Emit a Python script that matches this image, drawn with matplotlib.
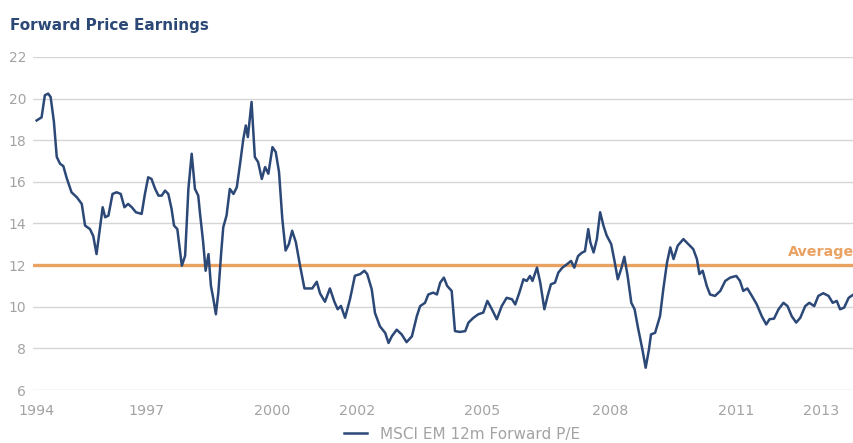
import numpy as np
import matplotlib
matplotlib.use('Agg')
import matplotlib.pyplot as plt

# MSCI EM 12m forward P/E (decimal year, value)
years = [1994.00, 1994.12, 1994.20, 1994.28, 1994.34, 1994.42, 1994.49, 1994.57, 1994.65, 1994.73,
         1994.85, 1994.98, 1995.10, 1995.18, 1995.30, 1995.38, 1995.46, 1995.54, 1995.61, 1995.67,
         1995.75, 1995.85, 1995.95, 1996.05, 1996.14, 1996.23, 1996.32, 1996.42, 1996.56, 1996.64,
         1996.72, 1996.80, 1996.89, 1996.97, 1997.05, 1997.13, 1997.21, 1997.29, 1997.35, 1997.43,
         1997.54, 1997.62, 1997.70, 1997.78, 1997.86, 1997.94, 1997.98, 1998.06, 1998.12, 1998.19,
         1998.25, 1998.31, 1998.37, 1998.43, 1998.50, 1998.55, 1998.63, 1998.71, 1998.80, 1998.88,
         1998.96, 1999.04, 1999.10, 1999.15, 1999.19, 1999.24, 1999.28, 1999.32, 1999.40, 1999.49,
         1999.57, 1999.65, 1999.75, 1999.83, 1999.91, 1999.99, 2000.07, 2000.15, 2000.23, 2000.32,
         2000.42, 2000.53, 2000.64, 2000.72, 2000.83, 2000.91, 2001.03, 2001.15, 2001.26, 2001.34,
         2001.42, 2001.52, 2001.64, 2001.76, 2001.89, 2001.99, 2002.06, 2002.17, 2002.25, 2002.37,
         2002.50, 2002.58, 2002.66, 2002.78, 2002.90, 2003.02, 2003.15, 2003.27, 2003.35, 2003.47,
         2003.55, 2003.67, 2003.76, 2003.84, 2003.93, 2004.01, 2004.12, 2004.20, 2004.32, 2004.45,
         2004.53, 2004.65, 2004.77, 2004.89, 2004.99, 2005.10, 2005.22, 2005.34, 2005.46, 2005.59,
         2005.67, 2005.77, 2005.87, 2005.95, 2006.03, 2006.09, 2006.20, 2006.28, 2006.38, 2006.46,
         2006.54, 2006.64, 2006.72, 2006.82, 2006.93, 2007.03, 2007.11, 2007.20, 2007.29, 2007.37,
         2007.45, 2007.50, 2007.58, 2007.66, 2007.74, 2007.82, 2007.90, 2008.01, 2008.09, 2008.17,
         2008.25, 2008.33, 2008.41, 2008.50, 2008.58, 2008.67, 2008.77, 2008.85, 2008.93, 2008.98,
         2009.08, 2009.20, 2009.28, 2009.37, 2009.45, 2009.53, 2009.63, 2009.77, 2009.89, 2010.01,
         2010.10, 2010.16, 2010.24, 2010.34, 2010.42, 2010.54, 2010.67, 2010.79, 2010.91, 2011.06,
         2011.15, 2011.23, 2011.33, 2011.44, 2011.56, 2011.68, 2011.79, 2011.87, 2011.98, 2012.09,
         2012.21, 2012.31, 2012.41, 2012.52, 2012.62, 2012.74, 2012.84, 2012.96, 2013.06, 2013.18,
         2013.31, 2013.41, 2013.51, 2013.59, 2013.69, 2013.80, 2013.92]

pe = [18.95, 19.10, 20.16, 20.24, 20.08, 18.90, 17.20, 16.87, 16.76, 16.20,
      15.50, 15.26, 14.94, 13.90, 13.73, 13.40, 12.53, 13.73, 14.78, 14.30,
      14.38, 15.42, 15.50, 15.42, 14.78, 14.94, 14.78, 14.54, 14.46, 15.42,
      16.22, 16.14, 15.66, 15.34, 15.34, 15.58, 15.42, 14.70, 13.90, 13.73,
      11.97, 12.45, 15.66, 17.35, 15.66, 15.34, 14.54, 13.10, 11.73, 12.53,
      11.00, 10.36, 9.64, 10.68, 12.61, 13.82, 14.38, 15.66, 15.42, 15.74,
      16.87, 18.07, 18.71, 18.15, 18.88, 19.84, 18.55, 17.19, 16.95, 16.14,
      16.71, 16.39, 17.67, 17.43, 16.47, 14.22, 12.70, 13.01, 13.65, 13.10,
      12.00, 10.88, 10.88, 10.88, 11.20, 10.64, 10.24, 10.88, 10.24, 9.88,
      10.04, 9.47, 10.36, 11.49, 11.57, 11.73, 11.57, 10.84, 9.70, 9.06,
      8.74, 8.26, 8.58, 8.90, 8.67, 8.30, 8.58, 9.55, 10.03, 10.19,
      10.59, 10.68, 10.59, 11.16, 11.40, 11.00, 10.76, 8.83, 8.79, 8.83,
      9.24, 9.47, 9.64, 9.72, 10.28, 9.88, 9.40, 10.03, 10.43, 10.36,
      10.11, 10.68, 11.32, 11.24, 11.48, 11.24, 11.88, 11.16, 9.88, 10.52,
      11.08, 11.16, 11.64, 11.88, 12.04, 12.20, 11.88, 12.43, 12.59, 12.67,
      13.73, 13.10, 12.61, 13.25, 14.54, 13.90, 13.42, 13.01, 12.20, 11.32,
      11.80, 12.40, 11.48, 10.19, 9.88, 8.92, 7.95, 7.07, 7.95, 8.67,
      8.75, 9.55, 10.84, 12.12, 12.85, 12.29, 12.93, 13.25, 13.01, 12.77,
      12.29, 11.57, 11.73, 11.00, 10.59, 10.52, 10.76, 11.24, 11.40, 11.48,
      11.24, 10.76, 10.88, 10.52, 10.11, 9.55, 9.15, 9.40, 9.43, 9.88,
      10.19, 10.03, 9.55, 9.24, 9.47, 10.03, 10.19, 10.03, 10.52, 10.65,
      10.52, 10.19, 10.28, 9.88, 9.96, 10.43, 10.59]

average = 12.0
y_ticks = [6, 8, 10, 12, 14, 16, 18, 20, 22]
x_labels = ['1994', '1997', '2000', '2002', '2005', '2008', '2011', '2013']
x_label_pos = [1994.00, 1996.68, 1999.74, 2001.82, 2004.87, 2007.98, 2011.05, 2013.14]

navy = '#2c4877'
orange = '#eaa263'
grey_txt = '#a3a3a3'

fig = plt.figure(figsize=(8.54, 4.43), dpi=100)
ax = fig.add_axes([0.0386, 0.1196, 0.9614, 0.7518])

ax.set_xlim(1993.91, 2013.93)
ax.set_ylim(6, 22)

for y in y_ticks:
    ax.axhline(y, color='#d6d6d6', lw=1.0, zorder=1)

ax.axhline(average, color=orange, lw=2.4, zorder=2)
ax.plot(years, pe, color=navy, lw=1.8, zorder=3, label='MSCI EM 12m Forward P/E')

ax.text(2013.93, average + 0.3, 'Average', color=orange, fontsize=10.3, fontweight='bold',
        ha='right', va='bottom')

ax.set_yticks(y_ticks)
ax.set_yticklabels([str(t) for t in y_ticks], color=grey_txt, fontsize=10)
ax.set_xticks(x_label_pos)
ax.set_xticklabels(x_labels, color=grey_txt, fontsize=10.3)
ax.tick_params(length=0)
ax.tick_params(axis='y', pad=5)
ax.tick_params(axis='x', pad=10)
for s in ax.spines.values():
    s.set_visible(False)

fig.text(0.012, 0.943, 'Forward Price Earnings', color=navy, fontsize=11,
         fontweight='bold', ha='left', va='center')

fig.legend(loc='center', bbox_to_anchor=(0.541, 0.02), frameon=False,
           fontsize=11, handlelength=1.5, handletextpad=0.8, labelcolor=grey_txt)

fig.savefig('out.png', dpi=100)
